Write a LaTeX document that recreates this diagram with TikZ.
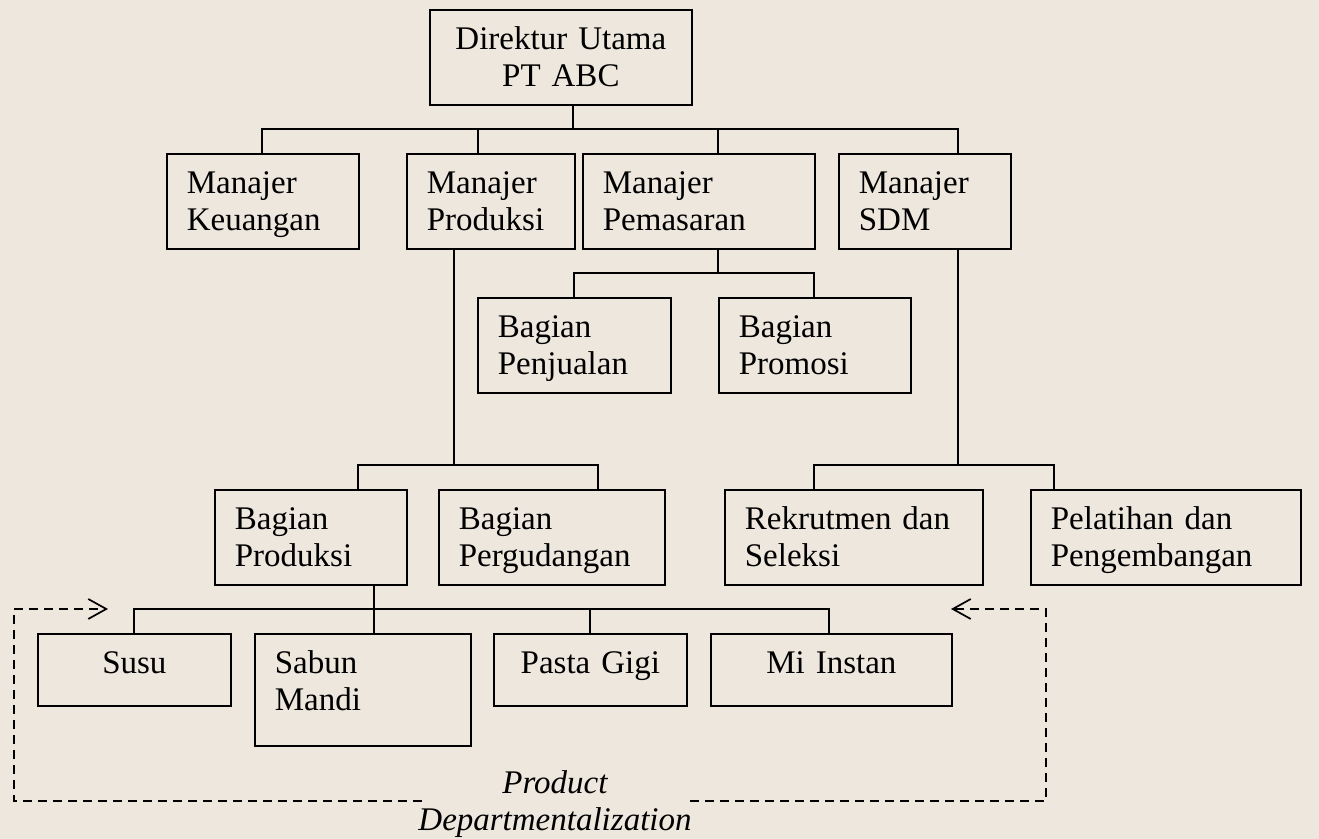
\documentclass[tikz,border=0pt]{standalone}
\usepackage{fontspec}
\setmainfont{Liberation Serif}
\usetikzlibrary{arrows.meta}
\definecolor{paper}{RGB}{237,231,221}
\newcommand\orgfont{\fontsize{16.5pt}{18.5pt}\selectfont}
\tikzset{
box/.style={draw, line width=0.85pt, anchor=north west, inner xsep=10pt, inner ysep=0pt, text height=20pt, align=left, font=\orgfont},
twoline/.style={text depth=27.5pt},
oneline/.style={text depth=16pt, align=center},
link/.style={line width=0.85pt},
guide/.style={line width=0.85pt, dash pattern=on 4.5pt off 3pt, -{Straight Barb[length=9pt, width=10pt]}},
caption/.style={inner sep=0pt, align=center, font=\orgfont\itshape},
}

\begin{document}
\begin{tikzpicture}[x=0.5pt, y=-0.5pt]
    \fill[paper] (0,0) rectangle (1319,839);
    \useasboundingbox (0,0) rectangle (1319,839);

    %top
    \node[box, twoline, align=center, text width=111pt] (dirut) at (429,9) {Direktur Utama\\PT ABC};

    %managers
    \node[box, twoline, text width=76pt]  (keu) at (166,153) {Manajer\\Keuangan};
    \node[box, twoline, text width=64pt] (prod) at (406,153) {Manajer\\Produksi};
    \node[box, twoline, text width=96pt]  (pms) at (582,153) {Manajer\\Pemasaran};
    \node[box, twoline, text width=66pt]  (sdm) at (838,153) {Manajer\\SDM};

    %marketing units
    \node[box, twoline, text width=76.5pt]  (jual) at (477,297) {Bagian\\Penjualan};
    \node[box, twoline, text width=76pt]   (promo) at (718,297) {Bagian\\Promosi};

    %production and hr units
    \node[box, twoline, text width=76pt]   (bprod) at (214,489) {Bagian\\Produksi};
    \node[box, twoline, text width=93pt]  (gudang) at (438,489) {Bagian\\Pergudangan};
    \node[box, twoline, text width=109pt] (rekrut) at (724,489) {Rekrutmen dan\\Seleksi};
    \node[box, twoline, text width=115pt]  (latih) at (1030,489) {Pelatihan dan\\Pengembangan};

    %products
    \node[box, oneline, text width=76.5pt]  (susu) at (37,633) {Susu};
    \node[box, text depth=36pt, text width=88pt] (sabun) at (254,633) {Sabun\\Mandi};
    \node[box, oneline, text width=76.5pt] (pasta) at (493,633) {Pasta Gigi};
    \node[box, oneline, text width=100.5pt]   (mi) at (710,633) {Mi Instan};

    \node[caption] (pd) at (555,804) {Product\\Departmentalization};

    %junctions
    \coordinate (b0) at (573,129);
    \coordinate (d1) at (262,129);
    \coordinate (d2) at (478,129);
    \coordinate (d3) at (718,129);
    \coordinate (d4) at (958,129);

    \coordinate (p0) at (718,273);
    \coordinate (p1) at (574,273);
    \coordinate (p2) at (814,273);

    \coordinate (q0) at (454,465);
    \coordinate (q1) at (358,465);
    \coordinate (q2) at (598,465);

    \coordinate (s0) at (958,465);
    \coordinate (s1) at (814,465);
    \coordinate (s2) at (1054,465);

    \coordinate (r0) at (374,609);
    \coordinate (r1) at (134,609);
    \coordinate (r2) at (590,609);
    \coordinate (r3) at (829,609);

    %director to managers
    \draw[link] (dirut.south -| b0)--(b0);
    \draw[link] (d1 |- keu.north)--(d1)--(d4)--(d4 |- sdm.north);
    \draw[link] (d2)--(d2 |- prod.north);
    \draw[link] (d3)--(d3 |- pms.north);

    %marketing
    \draw[link] (pms.south -| p0)--(p0);
    \draw[link] (p1 |- jual.north)--(p1)--(p2)--(p2 |- promo.north);

    %production
    \draw[link] (prod.south -| q0)--(q0);
    \draw[link] (q1 |- bprod.north)--(q1)--(q2)--(q2 |- gudang.north);

    %hr
    \draw[link] (sdm.south -| s0)--(s0);
    \draw[link] (s1 |- rekrut.north)--(s1)--(s2)--(s2 |- latih.north);

    %products
    \draw[link] (bprod.south -| r0)--(r0 |- sabun.north);
    \draw[link] (r1 |- susu.north)--(r1)--(r3)--(r3 |- mi.north);
    \draw[link] (r2)--(r2 |- pasta.north);

    %dashed frame
    \coordinate (gapL) at (422,801);
    \coordinate (gapR) at (690,801);
    \coordinate (cornerL) at (14,609);
    \coordinate (cornerR) at (1046,609);
    \coordinate (tipL) at (108,609);
    \coordinate (tipR) at (951,609);
    \draw[guide] (gapL) -| (cornerL)--(tipL);
    \draw[guide] (gapR) -| (cornerR)--(tipR);

\end{tikzpicture}
\end{document}
